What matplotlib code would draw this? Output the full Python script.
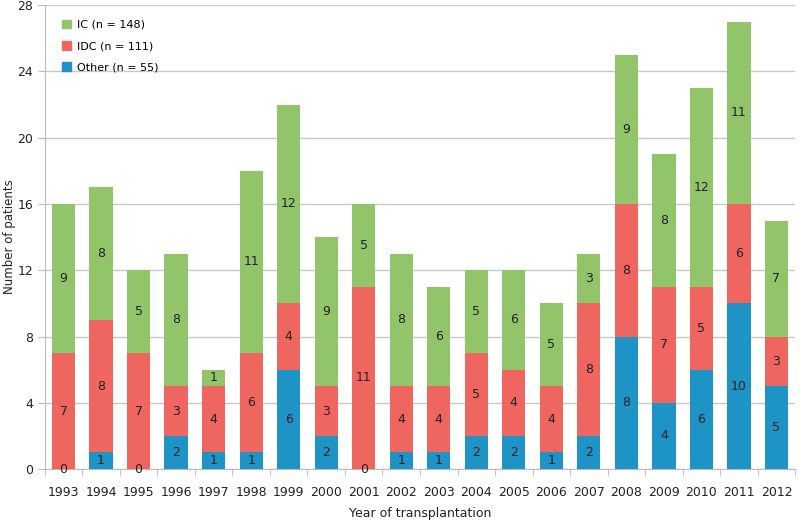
import numpy as np
import matplotlib.pyplot as plt
from matplotlib.patches import Patch

years = ['1993', '1994', '1995', '1996', '1997', '1998', '1999', '2000', '2001', '2002',
         '2003', '2004', '2005', '2006', '2007', '2008', '2009', '2010', '2011', '2012']
other = [0, 1, 0, 2, 1, 1, 6, 2, 0, 1, 1, 2, 2, 1, 2, 8, 4, 6, 10, 5]
idc = [7, 8, 7, 3, 4, 6, 4, 3, 11, 4, 4, 5, 4, 4, 8, 8, 7, 5, 6, 3]
ic = [9, 8, 5, 8, 1, 11, 12, 9, 5, 8, 6, 5, 6, 5, 3, 9, 8, 12, 11, 7]

c_other = '#1d93c6'
c_idc = '#ef6560'
c_ic = '#92c46a'

fig = plt.figure(figsize=(8, 5.2), dpi=100)
ax = fig.add_axes([0.056, 0.098, 0.938, 0.892])

x = np.arange(len(years))
other = np.array(other)
idc = np.array(idc)
ic = np.array(ic)
w = 0.62

ax.bar(x, other, w, color=c_other, zorder=3)
ax.bar(x, idc, w, bottom=other, color=c_idc, zorder=3)
ax.bar(x, ic, w, bottom=other + idc, color=c_ic, zorder=3)

# value labels in the middle of each segment
for i in range(len(years)):
    ax.text(x[i], other[i] / 2, str(other[i]), ha='center', va='center', fontsize=9, color='#222222', zorder=4)
    ax.text(x[i], other[i] + idc[i] / 2, str(idc[i]), ha='center', va='center', fontsize=9, color='#222222', zorder=4)
    ax.text(x[i], other[i] + idc[i] + ic[i] / 2, str(ic[i]), ha='center', va='center', fontsize=9, color='#222222', zorder=4)

ax.set_xlim(-0.5, len(years) - 0.5)
ax.set_ylim(0, 28)
ax.set_yticks(range(0, 29, 4))
ax.set_xticks(x)
ax.set_xticklabels(years)
ax.set_xticks(np.arange(-0.5, len(years), 1), minor=True)
ax.tick_params(axis='x', which='major', length=0, pad=12, labelsize=9, colors='#222222')
ax.tick_params(axis='x', which='minor', length=5, color='#bbbbbb')
ax.tick_params(axis='y', length=5, color='#bbbbbb', labelsize=9, colors='#222222')
ax.yaxis.grid(True, color='#c8c8c8', linewidth=1, zorder=0)

for s in ['top', 'right']:
    ax.spines[s].set_visible(False)
for s in ['left', 'bottom']:
    ax.spines[s].set_color('#bbbbbb')

ax.set_xlabel('Year of transplantation', fontsize=9, color='#222222', labelpad=6)
ax.set_ylabel('Number of patients', fontsize=8.5, color='#222222')
ax.yaxis.set_label_coords(-0.038, 0.5)

handles = [Patch(color=c_ic, label='IC (n = 148)'),
           Patch(color=c_idc, label='IDC (n = 111)'),
           Patch(color=c_other, label='Other (n = 55)')]
ax.legend(handles=handles, loc='upper left', bbox_to_anchor=(0.01, 0.99), frameon=False,
          fontsize=8, handlelength=0.8, handleheight=0.8, labelspacing=1.0, handletextpad=0.5)

fig.savefig('out.png', dpi=100)
